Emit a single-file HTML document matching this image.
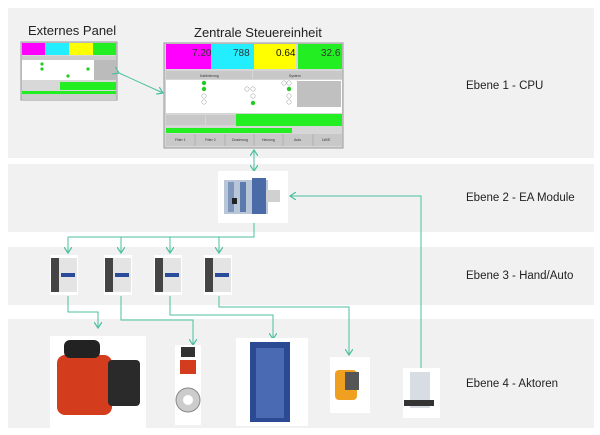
<!DOCTYPE html>
<html><head><meta charset="utf-8"><style>
body{margin:0;background:#fff;}
svg{display:block;font-family:"Liberation Sans",sans-serif;}
</style></head><body>
<svg width="600" height="435" viewBox="0 0 600 435" xmlns="http://www.w3.org/2000/svg">
<defs>
<marker id="a" markerWidth="8" markerHeight="8" refX="6" refY="4" orient="auto" markerUnits="userSpaceOnUse">
<path d="M0,0 L6,4 L0,8" fill="none" stroke="#4cbf9f" stroke-width="1.2"/></marker>
</defs>
<rect width="600" height="435" fill="#fff"/>
<rect x="8" y="8" width="586" height="150" fill="#f1f1f1"/>
<rect x="8" y="164" width="586" height="68" fill="#f1f1f1"/>
<rect x="8" y="247" width="586" height="58" fill="#f1f1f1"/>
<rect x="8" y="319" width="586" height="109" fill="#f1f1f1"/>

<text x="28" y="35" font-size="13" fill="#222">Externes Panel</text>
<text x="194" y="37" font-size="13" fill="#222">Zentrale Steuereinheit</text>
<text x="466" y="89" font-size="11.5" fill="#222">Ebene 1 - CPU</text>
<text x="466" y="201" font-size="11.5" fill="#222">Ebene 2 - EA Module</text>
<text x="466" y="279" font-size="11.5" fill="#222">Ebene 3 - Hand/Auto</text>
<text x="466" y="387" font-size="11.5" fill="#222">Ebene 4 - Aktoren</text>

<!-- external panel -->
<g>
<rect x="21" y="42" width="96" height="58" fill="#d8d8d8" stroke="#999"/>
<rect x="22" y="43" width="23" height="12" fill="#ff00ff"/>
<rect x="45" y="43" width="24" height="12" fill="#22eeff"/>
<rect x="69" y="43" width="24" height="12" fill="#ffff00"/>
<rect x="93" y="43" width="23" height="12" fill="#22ee22"/>
<rect x="22" y="56" width="94" height="4" fill="#ccc"/>
<rect x="22" y="60" width="72" height="20" fill="#fff"/>
<rect x="94" y="60" width="22" height="20" fill="#bbb"/>
<rect x="60" y="82" width="56" height="8" fill="#22ee22"/>
<rect x="22" y="91" width="94" height="3" fill="#22ee22"/>
<rect x="22" y="94" width="94" height="6" fill="#ccc"/>
<circle cx="42" cy="64" r="1.6" fill="#2c2"/><circle cx="42" cy="69" r="1.6" fill="#2c2"/><circle cx="68" cy="76" r="1.6" fill="#2c2"/><circle cx="88" cy="69" r="1.6" fill="#2c2"/>
</g>

<!-- main panel -->
<g font-size="3.5" fill="#333">
<rect x="164" y="43" width="179" height="105" fill="#d6d6d6" stroke="#999"/>
<rect x="166" y="44" width="45" height="25" fill="#ff00ff"/>
<rect x="211" y="44" width="43" height="25" fill="#22eeff"/>
<rect x="254" y="44" width="42" height="25" fill="#ffff00"/>
<rect x="298" y="44" width="44" height="25" fill="#22ee22"/>
<text x="192" y="56" font-size="10" fill="#333">7.20</text>
<text x="233" y="56" font-size="10" fill="#333">788</text>
<text x="276" y="56" font-size="10" fill="#111">0.64</text>
<text x="321" y="56" font-size="10" fill="#333">32.6</text>
<rect x="166" y="71" width="86" height="8" fill="#c8c8c8"/>
<rect x="253" y="71" width="89" height="8" fill="#c8c8c8"/>
<text x="200" y="77">Kalibrierung</text><text x="289" y="77">System</text>
<rect x="166" y="80" width="176" height="33" fill="#fff"/>
<rect x="297" y="81" width="44" height="26" fill="#c0c0c0"/>
<g fill="#2c2"><circle cx="204" cy="83" r="2.2"/><circle cx="204" cy="89" r="2.2"/><circle cx="253" cy="103" r="2.2"/><circle cx="289" cy="89" r="2.2"/></g>
<g fill="#fff" stroke="#999" stroke-width=".5"><circle cx="204" cy="96" r="2.2"/><circle cx="204" cy="102" r="2.2"/><circle cx="247" cy="89" r="2.2"/><circle cx="253" cy="89" r="2.2"/><circle cx="253" cy="96" r="2.2"/><circle cx="289" cy="96" r="2.2"/><circle cx="289" cy="102" r="2.2"/><circle cx="284" cy="83" r="2.2"/><circle cx="289" cy="83" r="2.2"/></g>
<rect x="166" y="115" width="39" height="10" fill="#c8c8c8"/>
<rect x="206" y="115" width="39" height="10" fill="#c8c8c8"/>
<rect x="236" y="114" width="106" height="12" fill="#22ee22"/>
<rect x="166" y="128" width="126" height="5" fill="#22ee22"/>
<rect x="166" y="134" width="176" height="12" fill="#c8c8c8"/>
<g stroke="#999" stroke-width=".5"><line x1="195" y1="134" x2="195" y2="146"/><line x1="225" y1="134" x2="225" y2="146"/><line x1="254" y1="134" x2="254" y2="146"/><line x1="283" y1="134" x2="283" y2="146"/><line x1="313" y1="134" x2="313" y2="146"/></g>
<text x="175" y="141">Filter 1</text><text x="205" y="141">Filter 2</text><text x="232" y="141">Dosierung</text><text x="262" y="141">Heizung</text><text x="294" y="141">Auto</text><text x="322" y="141">LW/E</text>
</g>

<!-- connectors -->
<g fill="none" stroke="#4cbf9f" stroke-width="1">
<line x1="119" y1="73" x2="163" y2="93" marker-end="url(#a)" marker-start="url(#a)"/>
<line x1="254" y1="163" x2="254" y2="150" marker-end="url(#a)"/>
<line x1="254" y1="163" x2="254" y2="171" marker-end="url(#a)"/>
<polyline points="254,223 254,237 68,237"/>
<line x1="68" y1="237" x2="68" y2="253" marker-end="url(#a)"/>
<line x1="121" y1="237" x2="121" y2="253" marker-end="url(#a)"/>
<line x1="170" y1="237" x2="170" y2="253" marker-end="url(#a)"/>
<line x1="219" y1="237" x2="219" y2="253" marker-end="url(#a)"/>
<polyline points="68,296 68,312 98,312 98,328" marker-end="url(#a)"/>
<polyline points="121,296 121,320 193,320 193,345" marker-end="url(#a)"/>
<polyline points="170,296 170,315 273,315 273,339" marker-end="url(#a)"/>
<polyline points="219,296 219,307 349,307 349,355" marker-end="url(#a)"/>
<polyline points="421,370 421,196 290,196" marker-end="url(#a)"/>
</g>

<!-- EA module -->
<g>
<rect x="218" y="171" width="70" height="52" fill="#fff"/>
<rect x="224" y="180" width="44" height="34" fill="#b8c6d8"/>
<rect x="228" y="182" width="6" height="30" fill="#7e96bc"/><rect x="240" y="182" width="6" height="30" fill="#5c7aae"/><rect x="252" y="178" width="14" height="36" fill="#4a6aa8"/>
<rect x="266" y="190" width="14" height="12" fill="#d0d0d0"/>
<rect x="232" y="198" width="5" height="6" fill="#222"/>
</g>

<!-- contactors -->
<g>
<g id="c"><rect x="50" y="255" width="28" height="40" fill="#fff"/><rect x="51" y="258" width="8" height="34" fill="#444"/><rect x="59" y="258" width="18" height="34" fill="#e4e4e4"/><rect x="61" y="273" width="14" height="4" fill="#2a4a9a"/></g>
<use href="#c" x="54"/><use href="#c" x="104"/><use href="#c" x="154"/>
</g>

<!-- actuators -->
<rect x="50" y="336" width="96" height="92" fill="#fff"/>
<rect x="57" y="355" width="55" height="60" rx="8" fill="#d33d1e"/>
<rect x="64" y="340" width="36" height="18" rx="6" fill="#222"/>
<rect x="108" y="360" width="32" height="46" rx="4" fill="#2a2a2a"/>

<rect x="175" y="345" width="26" height="80" fill="#fff"/>
<rect x="181" y="347" width="14" height="10" fill="#333"/>
<rect x="180" y="360" width="16" height="14" fill="#d33d1e"/>
<circle cx="188" cy="400" r="12" fill="#ccc" stroke="#888"/>
<circle cx="188" cy="400" r="5" fill="#fff"/>

<rect x="236" y="338" width="72" height="88" fill="#fff"/>
<rect x="250" y="342" width="40" height="80" fill="#2c4a94"/>
<rect x="256" y="348" width="28" height="70" fill="#4a6ab4"/>

<rect x="330" y="357" width="40" height="56" fill="#fff"/>
<rect x="335" y="370" width="22" height="30" rx="4" fill="#f0a020"/>
<rect x="345" y="372" width="14" height="18" fill="#555"/>

<rect x="403" y="368" width="37" height="50" fill="#fff"/>
<rect x="410" y="372" width="20" height="36" fill="#d8dde4"/>
<rect x="404" y="400" width="30" height="6" fill="#333"/>
</svg>
</body></html>
